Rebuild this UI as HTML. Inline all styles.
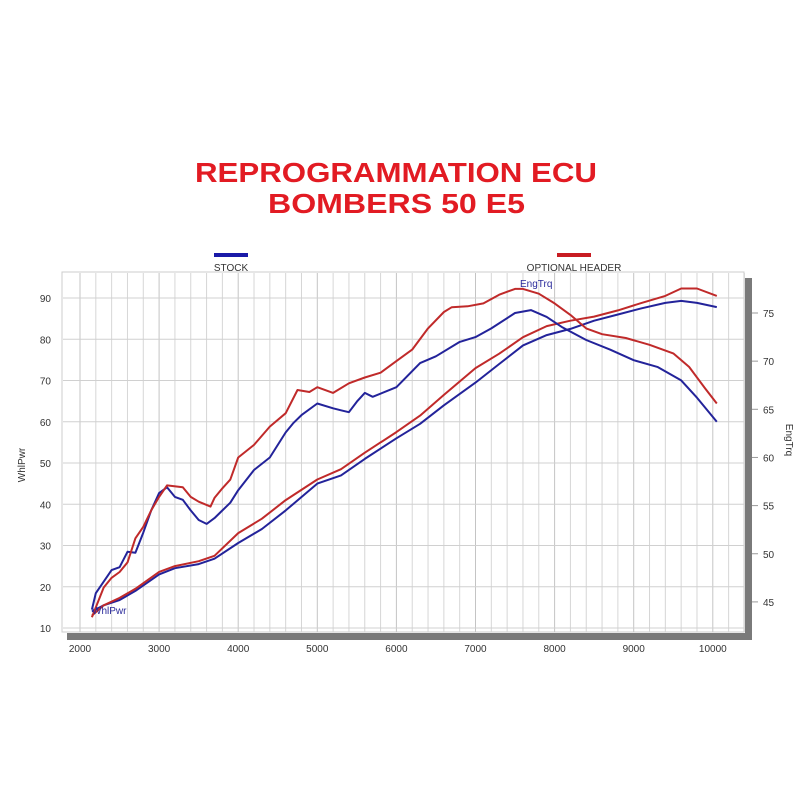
<!DOCTYPE html>
<html><head><meta charset="utf-8"><style>
html,body{margin:0;padding:0;background:#fff;}
svg{display:block;font-family:"Liberation Sans",Arial,sans-serif;}
</style></head><body>
<svg id="c" width="800" height="800" viewBox="0 0 800 800">
<text x="195" y="182" font-size="28" textLength="402" lengthAdjust="spacingAndGlyphs" font-weight="bold" fill="#e21b23">REPROGRAMMATION ECU</text>
<text x="268" y="213" font-size="28" textLength="257" lengthAdjust="spacingAndGlyphs" font-weight="bold" fill="#e21b23">BOMBERS 50 E5</text>
<rect x="214" y="253" width="34" height="4" fill="#1a1aa8"/>
<text x="231" y="271" text-anchor="middle" font-size="10" fill="#333">STOCK</text>
<rect x="557" y="253" width="34" height="4" fill="#c81c22"/>
<text x="574" y="271" text-anchor="middle" font-size="10" fill="#333">OPTIONAL HEADER</text>
<rect x="62" y="272" width="682" height="360" fill="#fff" stroke="#ccc"/>
<g id="grid"></g>
<rect x="67" y="633" width="685" height="7" fill="#7a7a7a"/>
<rect x="745" y="278" width="7" height="362" fill="#7a7a7a"/>
<g id="ticks"></g>
<g id="series"></g>
<text x="25" y="465" font-size="10" fill="#333" text-anchor="middle" transform="rotate(-90 25 465)">WhlPwr</text>
<text x="786" y="440" font-size="10" fill="#333" text-anchor="middle" transform="rotate(90 786 440)">EngTrq</text>
<text x="520" y="287" font-size="10" fill="#2a2a9a">EngTrq</text>
<text x="92" y="614" font-size="10" fill="#2a2a9a">WhlPwr</text>
</svg>
<script>
const xTicks=[2000,3000,4000,5000,6000,7000,8000,9000,10000];
const yLeftTicks=[10,20,30,40,50,60,70,80,90];
const yRightTicks=[45,50,55,60,65,70,75];

const pwrRpm=[2150,2300,2500,2700,3000,3200,3500,3700,4000,4300,4600,5000,5300,5600,6000,6300,6600,7000,7300,7600,7900,8200,8500,8800,9100,9400,9600,9800,10050];
const stockPwr=[14,15.5,16.8,19,23,24.5,25.5,26.8,30.6,34,38.5,45,47,51,56,59.5,64,69.5,74,78.5,81,82.5,84.5,86,87.5,88.8,89.3,88.8,87.8];
const optPwr=[13,15.5,17.3,19.5,23.6,25,26.2,27.5,33,36.5,41,46,48.5,52.5,57.5,61.5,66.5,73,76.5,80.5,83.2,84.5,85.5,87,88.8,90.5,92.3,92.3,90.5];

const stockTrqRpm=[2150,2200,2400,2500,2600,2700,2800,2900,3000,3100,3200,3300,3400,3500,3600,3700,3800,3900,4000,4200,4400,4600,4700,4800,5000,5200,5300,5400,5500,5600,5700,6000,6300,6500,6800,7000,7200,7500,7700,7900,8100,8400,8700,9000,9300,9600,9800,10050];
const stockTrq=[44.2,45.9,48.3,48.6,50.2,50.1,52.2,54.5,56.3,56.9,55.9,55.6,54.5,53.5,53.1,53.7,54.5,55.3,56.6,58.7,60.0,62.6,63.6,64.4,65.6,65.1,64.9,64.7,65.8,66.7,66.3,67.3,69.8,70.5,72,72.5,73.4,75,75.3,74.6,73.5,72.2,71.2,70.1,69.4,68,66.2,63.7];
const optTrqRpm=[2150,2300,2400,2500,2600,2700,2800,2900,3000,3100,3300,3400,3500,3650,3700,3800,3900,4000,4200,4400,4600,4750,4900,5000,5200,5400,5600,5800,6000,6200,6400,6600,6700,6900,7100,7300,7500,7600,7800,8000,8200,8400,8600,8900,9200,9500,9700,9900,10050];
const optTrq=[43.4,46.5,47.5,48.1,49.1,51.6,52.8,54.5,55.9,57.1,56.9,55.9,55.4,54.9,55.8,56.8,57.7,60.0,61.3,63.2,64.6,67.0,66.8,67.3,66.7,67.7,68.3,68.8,70,71.2,73.4,75.1,75.6,75.7,76,76.9,77.5,77.5,77,76,74.8,73.4,72.8,72.4,71.7,70.8,69.4,67.2,65.6];

const X=r=>80+(r-2000)*0.0791;
const YL=v=>628-(v-10)*4.125;
const YR=v=>313-(v-75)*9.63;
const NS='http://www.w3.org/2000/svg';
function mk(tag,attrs,parent){const e=document.createElementNS(NS,tag);for(const k in attrs)e.setAttribute(k,attrs[k]);parent.appendChild(e);return e;}
const grid=document.getElementById('grid'),ticks=document.getElementById('ticks'),series=document.getElementById('series');
for(let r=2000;r<=10400;r+=200){
  const l=mk('line',{x1:X(r),x2:X(r),y1:273,y2:632,stroke:r%1000===0?'#c4c4c4':'#d6d6d6','stroke-width':1},grid);
  
  
}
yLeftTicks.forEach(v=>{
  const l=mk('line',{x1:63,x2:744,y1:YL(v),y2:YL(v),stroke:'#d0d0d0','stroke-width':1},grid);
  
  
  const t=mk('text',{x:51,y:YL(v)+4,'text-anchor':'end','font-size':10,fill:'#333'},ticks);
  t.textContent=v;
  
  
});
yRightTicks.forEach(v=>{
  const l=mk('line',{x1:752,x2:758,y1:YR(v),y2:YR(v),stroke:'#999','stroke-width':1},ticks);
  
  
  const t=mk('text',{x:763,y:YR(v)+4,'font-size':10,fill:'#333'},ticks);
  t.textContent=v;
  
  
});
xTicks.forEach(r=>{
  const t=mk('text',{x:X(r),y:652,'text-anchor':'middle','font-size':10,fill:'#333'},ticks);
  t.textContent=r;
  
  
});
function line(xs,ys,yf,color,name){
  const d=xs.map((r,i)=>(i?'L':'M')+X(r).toFixed(1)+' '+yf(ys[i]).toFixed(1)).join(' ');
  const p=mk('path',{d:d,fill:'none',stroke:color,'stroke-width':2,'stroke-linejoin':'round'},series);
  
  
}
line(pwrRpm,stockPwr,YL,'#23239a','stock-power-line');
line(pwrRpm,optPwr,YL,'#c02a2a','optional-power-line');
line(stockTrqRpm,stockTrq,YR,'#23239a','stock-torque-line');
line(optTrqRpm,optTrq,YR,'#c02a2a','optional-torque-line');
</script>
</body></html>
